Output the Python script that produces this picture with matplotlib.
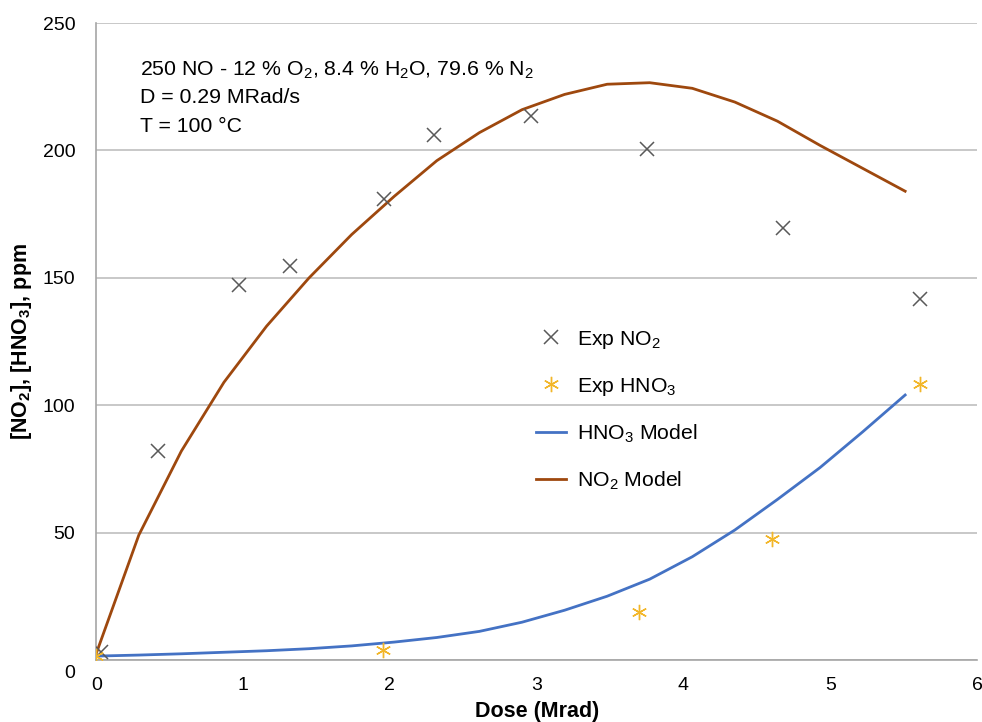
import matplotlib
matplotlib.use("Agg")
import matplotlib.pyplot as plt
import matplotlib.transforms as mtransforms
import numpy as np

plt.rcParams['font.family'] = ['Liberation Sans', 'DejaVu Sans']
plt.rcParams['mathtext.default'] = 'regular'

# experimental points
exp_no2_x = [0.03, 0.42, 0.97, 1.32, 1.96, 2.30, 2.96, 3.75, 4.68, 5.61]
exp_no2_y = [3, 82, 147, 154.5, 181, 206, 213.5, 200.5, 169.5, 141.5]
exp_hno3_x = [0.0, 1.95, 3.70, 4.60, 5.61]
exp_hno3_y = [1.5, 3.7, 19, 47.5, 108.5]

# model curves (dose steps of 0.29 Mrad)
model_x = [0.0, 0.29, 0.58, 0.87, 1.16, 1.45, 1.74, 2.03, 2.32, 2.61,
           2.90, 3.19, 3.48, 3.77, 4.06, 4.35, 4.64, 4.93, 5.22, 5.51]
no2_model = [2.5, 49, 82, 109, 131, 150, 167, 182, 196, 207,
             216, 222, 226, 226.6, 224.4, 219, 211.5, 202, 193, 184]
hno3_model = [1.5, 1.9, 2.4, 3.0, 3.6, 4.4, 5.5, 7.0, 8.8, 11.2,
              14.8, 19.5, 25.0, 31.7, 40.5, 51.0, 63.0, 75.5, 89.5, 104]

fig = plt.figure(figsize=(9.82, 7.22), dpi=100)
ax = fig.add_axes([0.098, 0.086, 0.897, 0.882])

ax.grid(axis='y', color='#bfbfbf', lw=1.2)
ax.set_axisbelow(True)

ax.plot(exp_no2_x, exp_no2_y, ls='none', marker='x', ms=10, mew=1.1,
        color='#595959', label='Exp NO$_2$', zorder=3)
ax.plot(exp_hno3_x, exp_hno3_y, ls='none', marker=(6, 2, 0), ms=11, mew=1.0,
        color='#F2B629', label='Exp HNO$_3$', zorder=3)
ax.plot(model_x, hno3_model, color='#4472C4', lw=2, label='HNO$_3$ Model', zorder=2)
ax.plot(model_x, no2_model, color='#9E480E', lw=2, label='NO$_2$ Model', zorder=2)

ax.set_xlim(0, 6)
ax.set_ylim(0, 250)
ax.set_xticks(range(0, 7))
ax.set_yticks(range(0, 251, 50))
ax.tick_params(length=0, labelsize=14, colors='black')
ax.tick_params(axis='x', pad=12)
ax.tick_params(axis='y', pad=15)

for s in ['top', 'right']:
    ax.spines[s].set_visible(False)
for s in ['left', 'bottom']:
    ax.spines[s].set_color('#a6a6a6')
    ax.spines[s].set_linewidth(1.2)

# Excel puts the y "0" a bit lower
fig.canvas.draw()
lab0 = ax.get_yticklabels()[0]
lab0.set_transform(lab0.get_transform() +
                   mtransforms.ScaledTranslation(0, -0.12, fig.dpi_scale_trans))

ax.set_xlabel('Dose (Mrad)', fontsize=15.5, fontweight='bold', labelpad=5)
ax.set_ylabel('[NO$_2$], [HNO$_3$], ppm', fontsize=15.5, fontweight='bold', labelpad=6)

ax.text(0.30, 231.6, '250 NO - 12 % O$_2$, 8.4 % H$_2$O, 79.6 % N$_2$',
        fontsize=15.3, va='center')
ax.text(0.30, 220.8, 'D = 0.29 MRad/s', fontsize=15.3, va='center')
ax.text(0.30, 209.3, 'T = 100 °C', fontsize=15.3, va='center')

ax.legend(loc='upper left', bbox_to_anchor=(0.477, 0.55), frameon=False,
          fontsize=15.3, labelspacing=1.17, handlelength=1.45, handletextpad=0.5)

fig.savefig('out.png', dpi=100)
